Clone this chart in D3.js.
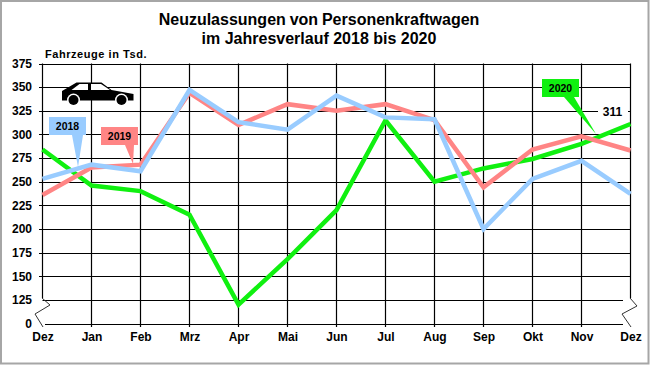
<!DOCTYPE html>
<html>
<head>
<meta charset="utf-8">
<script src="https://cdn.jsdelivr.net/npm/d3@7"></script>
<style>
  html, body { margin: 0; padding: 0; background: #fff; }
  svg { display: block; }
  text { font-family: "Liberation Sans", Arial, sans-serif; font-weight: bold; fill: #000; }
</style>
</head>
<body>
<div id="chart"></div>
<script>
// Data
var months = ['Dez', 'Jan', 'Feb', 'Mrz', 'Apr', 'Mai', 'Jun', 'Jul', 'Aug', 'Sep', 'Okt', 'Nov', 'Dez'];
var values2018 = [253, 268, 261, 347, 313, 305, 341, 318, 316, 200, 253, 272, 237];
var values2019 = [236, 265, 268, 344, 310, 332, 325, 332, 315, 244, 284, 298, 283];
var values2020 = [284, 246, 240, 215, 120, 168, 220, 315, 250, 264, 274, 290, 311];
var yTicks = [100, 125, 150, 175, 200, 225, 250, 275, 300, 325, 350, 375];
var lastValueLabel = '311';

var blue = '#99ccff', red = '#ff8585', green = '#10f010';

var svg = d3.select('#chart').append('svg').attr('width', 650).attr('height', 365);

// Outer frame
svg.append('rect').attr('x', 1).attr('y', 1).attr('width', 647.5).attr('height', 362.5)
    .attr('fill', '#fff').attr('stroke', '#a6a6a6').attr('stroke-width', 2);

// Scales. The axis is broken: the bottom position is labelled 0
var xScale = d3.scalePoint().domain(d3.range(months.length)).range([42.5, 630.5]);
var yScale = d3.scaleLinear().domain([100, 375]).range([323.5, 63.5]);

// Horizontal grid lines stop short at the axis break
svg.append('g').selectAll('line').data(yTicks).enter().append('line')
    .attr('x1', d => d === 100 ? 45 : (d === 125 ? 42.5 : 39))
    .attr('x2', d => d <= 125 ? 623 : 631)
    .attr('y1', d => Math.round(yScale(d)) + 0.5)
    .attr('y2', d => Math.round(yScale(d)) + 0.5)
    .attr('stroke', '#000').attr('stroke-width', 1.2);

// Vertical grid lines, the two outer ones end at the break
svg.append('g').selectAll('line').data(d3.range(months.length)).enter().append('line')
    .attr('x1', d => xScale(d)).attr('x2', d => xScale(d))
    .attr('y1', yScale(375))
    .attr('y2', (d, i) => (i === 0 || i === months.length - 1) ? 298 : 327)
    .attr('stroke', '#000').attr('stroke-width', 1.2);

// Break marks
var breakLine = d3.line();
svg.append('path').attr('d', breakLine([[42, 298], [50, 305], [35, 314], [43, 327]]))
    .attr('fill', 'none').attr('stroke', '#333').attr('stroke-width', 1);
svg.append('path').attr('d', breakLine([[630, 298], [637, 306], [622, 314], [631, 327]]))
    .attr('fill', 'none').attr('stroke', '#333').attr('stroke-width', 1);

// Axis labels
var yAxis = d3.axisLeft(yScale).tickValues(yTicks).tickSize(0).tickPadding(0)
    .tickFormat(d => d === 100 ? '0' : d);
var yGroup = svg.append('g').attr('transform', 'translate(32,0)').call(yAxis);
yGroup.select('.domain').remove();
yGroup.selectAll('text').attr('font-size', 12).attr('font-family', null);

var xAxis = d3.axisBottom(xScale).tickSize(0).tickPadding(0).tickFormat(i => months[i]);
var xGroup = svg.append('g').attr('transform', 'translate(0,332)').call(xAxis);
xGroup.select('.domain').remove();
xGroup.selectAll('text').attr('font-size', 12).attr('font-family', null);

// Series
var line = d3.line().x((d, i) => xScale(i)).y(d => yScale(d));
[[values2020, green], [values2019, red], [values2018, blue]].forEach(function(s) {
    svg.append('path').attr('d', line(s[0]))
        .attr('fill', 'none').attr('stroke', s[1]).attr('stroke-width', 4.5)
        .attr('stroke-linejoin', 'miter');
});

// Value label for the last point of 2020
svg.append('rect').attr('x', 598).attr('y', 105).attr('width', 30).attr('height', 14).attr('fill', '#fff');
svg.append('text').attr('x', 612.5).attr('y', 116).attr('text-anchor', 'middle')
    .attr('font-size', 12).text(lastValueLabel);

// Year callouts: box plus pointer
function callout(label, color, x, y, pointer) {
    svg.append('path').attr('d', breakLine(pointer) + 'Z').attr('fill', color);
    svg.append('rect').attr('x', x).attr('y', y).attr('width', 37).attr('height', 18).attr('fill', color);
    svg.append('text').attr('x', x + 18.5).attr('y', y + 13).attr('text-anchor', 'middle')
        .attr('font-size', 10.5).text(label);
}
callout('2019', red, 101, 127, [[125, 145], [134, 145], [133, 164]]);
callout('2018', blue, 49, 117, [[72, 135], [83, 135], [78, 167]]);
callout('2020', green, 542, 79, [[564, 97], [574, 97], [596, 134]]);

// Car icon
var car = svg.append('g');
car.append('path').attr('d', breakLine([[62, 91], [76.5, 82.5], [101.5, 82.5], [111.5, 90], [133.5, 94], [133.5, 100.5], [62, 100.5]]) + 'Z')
    .attr('fill', '#000');
car.append('path').attr('d', breakLine([[71.5, 90], [79.5, 84], [88, 84], [88, 90]]) + 'Z').attr('fill', '#fff');
car.append('path').attr('d', breakLine([[91, 84], [101, 84], [110, 90], [91, 90]]) + 'Z').attr('fill', '#fff');
[73.5, 121.5].forEach(function(cx) {
    car.append('circle').attr('cx', cx).attr('cy', 100).attr('r', 6.5).attr('fill', '#fff');
    car.append('circle').attr('cx', cx).attr('cy', 100).attr('r', 5).attr('fill', '#000');
});

// Titles
svg.append('text').attr('x', 319).attr('y', 25).attr('text-anchor', 'middle')
    .attr('font-size', 16).attr('word-spacing', -0.6).text('Neuzulassungen von Personenkraftwagen');
svg.append('text').attr('x', 319).attr('y', 44).attr('text-anchor', 'middle')
    .attr('font-size', 16).text('im Jahresverlauf 2018 bis 2020');
svg.append('text').attr('x', 45).attr('y', 58)
    .attr('font-size', 11).attr('letter-spacing', 0.55).text('Fahrzeuge in Tsd.');
</script>
</body>
</html>
